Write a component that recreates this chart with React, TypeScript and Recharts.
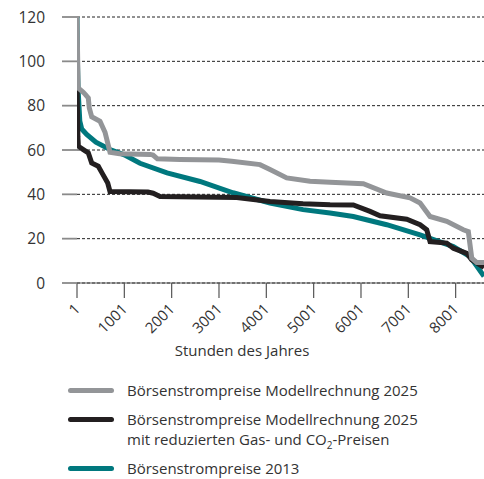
import React from "react";
import { LineChart, Line, XAxis, YAxis, CartesianGrid } from "recharts";

// Stunden des Jahres (sortiert) / Preis in EUR/MWh
const GRAY_HOURS = [1, 25, 134, 180, 240, 260, 311, 487, 593, 698, 900, 1550, 1607, 1700, 2177, 3000, 3270, 3868, 4079, 4432, 4924, 5347, 6051, 6545, 7037, 7249, 7460, 7813, 8163, 8269, 8341, 8447, 8600];
const GRAY_VALUES = [120, 88, 86, 85, 83.5, 79, 75, 73, 68, 59, 58.3, 58, 57.7, 56, 55.7, 55.5, 54.9, 53.4, 51.2, 47.4, 45.9, 45.4, 44.8, 40.6, 38.4, 36.1, 30, 27.8, 24, 23.2, 11.2, 9.2, 9.2];

const BLACK_HOURS = [1, 20, 30, 134, 240, 311, 450, 550, 650, 698, 1500, 1610, 1755, 3375, 4079, 4776, 5347, 5839, 6192, 6404, 6968, 7249, 7390, 7460, 7813, 7952, 8235, 8341, 8600];
const BLACK_VALUES = [93, 66, 61.7, 60.2, 58.7, 54.2, 52.7, 48.9, 45.1, 41.3, 41, 40.5, 39, 38.6, 36.8, 35.8, 35.3, 35.2, 32.3, 30.3, 28.8, 26.3, 24, 18.7, 18, 15.7, 13.4, 10.4, 7];

const TEAL_HOURS = [1, 10, 25, 60, 100, 206, 400, 698, 1000, 1332, 1903, 2600, 3297, 4079, 4776, 5347, 5839, 6545, 7249, 7952, 8305, 8600];
const TEAL_VALUES = [120, 100, 87, 73, 69.5, 67, 63.5, 60.2, 57.8, 54, 49.7, 45.8, 40.7, 36.1, 33.1, 31.6, 30, 26.3, 21.7, 16.4, 11.9, 3];

const X_TICKS = [1, 1001, 2001, 3001, 4001, 5001, 6001, 7001, 8001];
const Y_TICKS = [0, 20, 40, 60, 80, 100, 120];

const toRows = (hours: number[], values: number[]) =>
  hours.map((h, i) => ({ h, v: values[i] }));

const gray = toRows(GRAY_HOURS, GRAY_VALUES);
const black = toRows(BLACK_HOURS, BLACK_VALUES);
const teal = toRows(TEAL_HOURS, TEAL_VALUES);

const FONT = "'Open Sans', sans-serif";
const TEXT = "#333";

const XTick = ({ x, y, payload }: any) => (
  <text
    x={x + 4}
    y={y + 10}
    transform={`rotate(-45, ${x + 4}, ${y + 10})`}
    textAnchor="end"
    fontSize={15}
    fontFamily={FONT}
    fill={TEXT}
  >
    {payload.value}
  </text>
);

const legendItems = [
  { color: "#939598", label: <>Börsenstrompreise Modellrechnung 2025</> },
  {
    color: "#231f20",
    label: (
      <>
        Börsenstrompreise Modellrechnung 2025
        <br />
        mit reduzierten Gas- und CO<sub style={{ fontSize: 10, lineHeight: 0 }}>2</sub>-Preisen
      </>
    ),
  },
  { color: "#00787e", label: <>Börsenstrompreise 2013</> },
];

export default function App() {
  return (
    <div style={{ position: "absolute", left: 0, top: 0, width: 484, height: 479, background: "#fff", fontFamily: FONT }}>
      <LineChart width={484} height={340} data={gray} margin={{ top: 17, right: 0, bottom: 0, left: 0 }}>
        <CartesianGrid vertical={false} stroke="#222" strokeDasharray="3 2" />
        <XAxis
          dataKey="h"
          type="number"
          domain={[1, 8600]}
          ticks={X_TICKS}
          allowDataOverflow
          height={57}
          tickSize={15}
          tickLine={{ stroke: "#555", strokeWidth: 1.2 }}
          axisLine={{ stroke: "#555", strokeWidth: 1.2 }}
          tick={<XTick />}
          interval={0}
        />
        <YAxis
          type="number"
          domain={[0, 120]}
          ticks={Y_TICKS}
          width={77}
          tickSize={15}
          tickMargin={17}
          axisLine={false}
          tickLine={{ stroke: "#8a8a8a", strokeWidth: 1.8 }}
          tick={{ fontSize: 15.5, fontFamily: FONT, fill: TEXT }}
        />
        <Line data={teal} dataKey="v" type="linear" stroke="#00787e" strokeWidth={5} dot={false} isAnimationActive={false} />
        <Line data={black} dataKey="v" type="linear" stroke="#231f20" strokeWidth={5} dot={false} isAnimationActive={false} />
        <Line data={gray} dataKey="v" type="linear" stroke="#939598" strokeWidth={5} dot={false} isAnimationActive={false} />
      </LineChart>
      <div style={{ position: "absolute", left: 0, top: 340, width: 484, textAlign: "center", fontSize: 15, color: TEXT }}>
        Stunden des Jahres
      </div>
      <div style={{ position: "absolute", left: 68, top: 380 }}>
        {legendItems.map((it, i) => (
          <div key={i} style={{ display: "flex", alignItems: "flex-start", marginBottom: 9, fontSize: 15, lineHeight: "20px", color: TEXT }}>
            <div style={{ width: 46, height: 5, borderRadius: 3, background: it.color, marginTop: 8, marginRight: 13, flexShrink: 0 }} />
            <div>{it.label}</div>
          </div>
        ))}
      </div>
    </div>
  );
}
